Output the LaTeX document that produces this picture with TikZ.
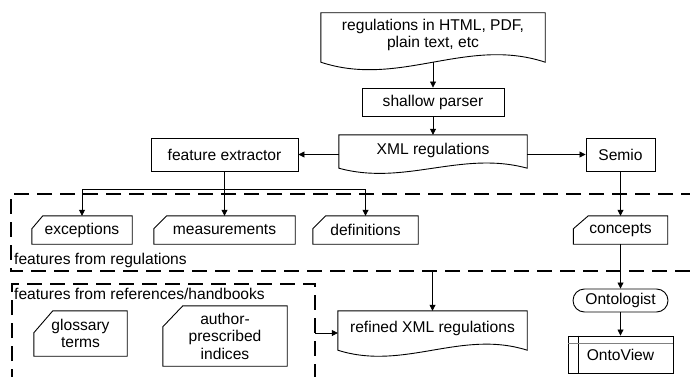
\documentclass[tikz,border=0pt]{standalone}
\usepackage{fontspec}
\setmainfont{Liberation Sans}
\usetikzlibrary{calc,arrows.meta,shapes.misc}
% document shape with wavy bottom: name, extra side length, wave amplitude
\newcommand\docwave[3]{%
  \draw[boxline] (#1.north west) -- (#1.north east) -- ($(#1.south east)+(0,#2)$)
    .. controls ($(#1.south west)!0.65!(#1.south east)+(0,#2-#3)$)
       and ($(#1.south west)!0.35!(#1.south east)+(0,#2+#3)$)
    .. ($(#1.south west)+(0,#2)$) -- cycle;}
% card shape with cut top-left corner: name, cut x, cut y
\newcommand\cardshape[3]{%
  \draw[boxline] (#1.south west) -- ($(#1.north west)+(0,#3)$) -- ($(#1.north west)+(#2,0)$)
    -- (#1.north east) -- (#1.south east) -- cycle;}
\begin{document}
\begin{tikzpicture}[x=1pt,y=-1pt,
  font=\fontsize{15.6}{17.5}\selectfont,
  boxline/.style={line width=0.9pt},
  box/.style={draw, boxline, rectangle, inner sep=0pt, align=center},
  plain/.style={inner sep=0pt, align=center},
  arr/.style={line width=0.8pt, -{Triangle[length=6pt,width=6pt]}},
  region/.style={line width=2pt, dash pattern=on 15pt off 8pt}]
\useasboundingbox (0,0) rectangle (690,377);

% top flow
\node[plain, minimum width=224, minimum height=44] (src) at (433,35) {regulations in HTML, PDF,\\plain text, etc};
\docwave{src}{5}{26}
\node[box, minimum width=142, minimum height=28] (parser) at (433,102) {shallow parser};
\node[plain, minimum width=188, minimum height=30] (xml) at (433,150) {XML regulations};
\docwave{xml}{3}{18}
\node[box, minimum width=147, minimum height=33] (fe) at (224.5,154.5) {feature extractor};
\node[box, minimum width=69, minimum height=33] (semio) at (620.5,154.5) {Semio};

\coordinate (srcout) at ($(src.south)+(0,5)$);
\draw[arr] (srcout) -- (parser.north);
\draw[arr] (parser.south) -- (xml.north);
\draw[arr] (fe.east -| xml.west) -- (fe.east);
\draw[arr] (semio.west -| xml.east) -- (semio.west);

% regions
\coordinate (r1nw) at (11,194);
\coordinate (r1ne) at (696,194);
\coordinate (r1sw) at (11,271);
\coordinate (r1se) at (696,271);
\draw[region] (r1ne) -- (r1nw) -- (r1sw) -- (r1se);
\coordinate (r2nw) at (12,284);
\coordinate (r2ne) at (315,284);
\coordinate (r2sw) at (12,384);
\coordinate (r2se) at (315,384);
\draw[region] (r2sw) -- (r2nw) -- (r2ne) -- (r2se);
\node[plain, anchor=west] (lab1) at (14,260) {features from regulations};
\node[plain, anchor=west] (lab2) at (14,294) {features from references/handbooks};

% feature cards
\node[plain, minimum width=100, minimum height=28] (exc) at (82,230) {exceptions};
\cardshape{exc}{11}{13}
\node[plain, minimum width=141, minimum height=28] (meas) at (224.5,230) {measurements};
\cardshape{meas}{13}{13}
\node[plain, minimum width=105, minimum height=28] (defs) at (365.5,230) {definitions};
\cardshape{defs}{13}{13}
\node[plain, minimum width=94, minimum height=28] (conc) at (620.5,230) {concepts};
\cardshape{conc}{15}{13}

\coordinate (j) at ($(fe.south)+(0,18)$);
\draw[line width=0.8pt] (fe.south) -- (j);
\draw[arr] (j) -- (meas.north);
\draw[arr] (j) -| (exc.north);
\draw[arr] (j) -| (defs.north);
\draw[arr] (semio.south) -- (conc.north);

% handbook cards
\node[plain, minimum width=93, minimum height=45] (gloss) at (80.5,333.5) {glossary\\terms};
\cardshape{gloss}{19}{22}
\node[plain, minimum width=124, minimum height=60] (auth) at (225,336) {author-\\prescribed\\indices};
\cardshape{auth}{20}{21}

% refined
\node[plain, minimum width=189, minimum height=34] (ref) at (432.5,328) {refined XML regulations};
\docwave{ref}{5}{21}
\coordinate (refin) at ($(ref.west)+(0,5)$);
\draw[arr] (refin -| r2ne) -- (refin);
\draw[arr] (ref.north |- r1sw) -- (ref.north);

% ontology
\node[draw, boxline, rounded rectangle, minimum width=95, minimum height=23, inner sep=0pt] (onto) at (620.5,300.5) {Ontologist};
\node[box, minimum width=105, minimum height=37] (ov) at (620.5,354.5) {OntoView};
\draw[boxline] ($(ov.north west)+(11,0)$) -- ($(ov.south west)+(11,0)$);
\draw[gray, line width=1.3pt] ($(ov.north west)+(0,8)$) -- ($(ov.north east)+(0,8)$);
\draw[arr] (conc.south) -- (onto.north);
\draw[arr] (onto.south) -- (ov.north);
\end{tikzpicture}
\end{document}
